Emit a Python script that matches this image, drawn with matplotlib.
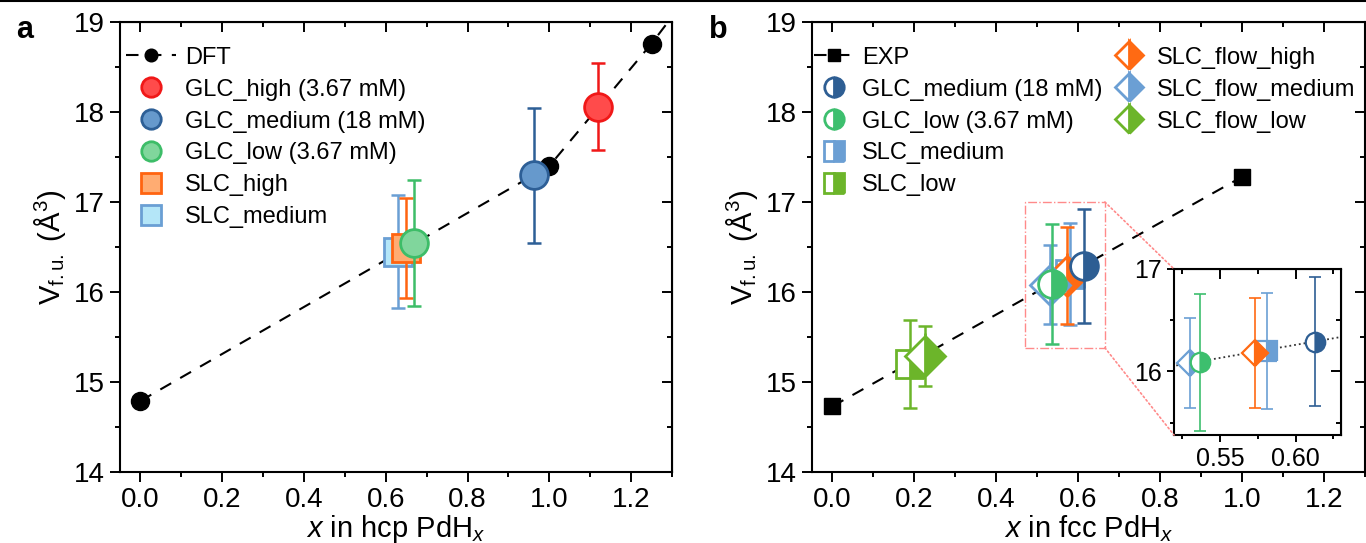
import matplotlib
matplotlib.use('Agg')
import matplotlib.pyplot as plt
from matplotlib.ticker import MultipleLocator, FormatStrFormatter
from matplotlib.patches import Rectangle, ConnectionPatch
from matplotlib.lines import Line2D

plt.rcParams['font.family'] = ['Liberation Sans', 'DejaVu Sans']
plt.rcParams['mathtext.fontset'] = 'custom'
plt.rcParams['mathtext.rm'] = 'Liberation Sans'
plt.rcParams['mathtext.it'] = 'Liberation Sans:italic'
plt.rcParams['mathtext.bf'] = 'Liberation Sans:bold'

# ---- panel a : hcp PdHx ----
dft_x = [0.0, 1.0, 1.25, 1.5]        # last DFT point lies outside the x range
dft_y = [14.79, 17.40, 18.76, 20.25]

a_names = ['SLC_medium', 'SLC_high', 'GLC_low (3.67 mM)',
           'GLC_medium (18 mM)', 'GLC_high (3.67 mM)']
a_x = [0.63, 0.65, 0.67, 0.963, 1.12]
a_y = [16.45, 16.49, 16.54, 17.30, 18.06]
a_err = [0.63, 0.56, 0.70, 0.75, 0.48]

# ---- panel b : fcc PdHx ----
exp_x = [0.0, 1.0]
exp_y = [14.73, 17.28]

b_names = ['SLC_low', 'SLC_flow_low', 'SLC_medium', 'SLC_flow_high',
           'GLC_medium (18 mM)', 'SLC_flow_medium', 'GLC_low (3.67 mM)']
b_x = [0.19, 0.225, 0.581, 0.573, 0.613, 0.530, 0.537]
b_y = [15.20, 15.29, 16.20, 16.18, 16.29, 16.08, 16.09]
b_err = [0.49, 0.33, 0.57, 0.54, 0.63, 0.44, 0.67]

# styles
a_style = {
    'GLC_high (3.67 mM)': ('o', '#ff4b4b', '#f01818'),
    'GLC_medium (18 mM)': ('o', '#6699cc', '#2d5f96'),
    'GLC_low (3.67 mM)': ('o', '#80d69c', '#3dbd68'),
    'SLC_high': ('s', '#ffac72', '#ff6410'),
    'SLC_medium': ('s', '#b4e6f8', '#6a9fd4'),
}
b_style = {
    'GLC_medium (18 mM)': ('o', '#2e5e93'),
    'GLC_low (3.67 mM)': ('o', '#3dbf6e'),
    'SLC_medium': ('s', '#6b9fd4'),
    'SLC_low': ('s', '#6cb52a'),
    'SLC_flow_high': ('D', '#ff6a13'),
    'SLC_flow_medium': ('D', '#6b9fd4'),
    'SLC_flow_low': ('D', '#6cb52a'),
}

TICK = 20
LEG = 17
LAB = 21


def style_axes(ax, xmaj, xmin, ymaj, ymin, size=TICK):
    for s in ax.spines.values():
        s.set_linewidth(1.5)
    ax.xaxis.set_major_locator(MultipleLocator(xmaj))
    ax.xaxis.set_minor_locator(MultipleLocator(xmin))
    ax.yaxis.set_major_locator(MultipleLocator(ymaj))
    ax.yaxis.set_minor_locator(MultipleLocator(ymin))
    ax.tick_params(which='both', direction='out', width=1.4, labelsize=size, pad=4)
    ax.tick_params(which='major', length=7)
    ax.tick_params(which='minor', length=3.5)
    # inward ticks on top and right
    top = ax.secondary_xaxis('top')
    top.xaxis.set_major_locator(MultipleLocator(xmaj))
    top.xaxis.set_minor_locator(MultipleLocator(xmin))
    top.tick_params(which='both', direction='in', width=1.4, labeltop=False)
    top.tick_params(which='major', length=7)
    top.tick_params(which='minor', length=3.5)
    right = ax.secondary_yaxis('right')
    right.yaxis.set_major_locator(MultipleLocator(ymaj))
    right.yaxis.set_minor_locator(MultipleLocator(ymin))
    right.tick_params(which='both', direction='in', width=1.4, labelright=False)
    right.tick_params(which='major', length=7)
    right.tick_params(which='minor', length=3.5)


fig = plt.figure(figsize=(13.66, 5.43), dpi=100)
ax_a = fig.add_axes([120 / 1366, 71 / 543, 552 / 1366, 450 / 543])
ax_b = fig.add_axes([812 / 1366, 71 / 543, 553 / 1366, 450 / 543])

# ---------------- panel a ----------------
h = {}
h['DFT'], = ax_a.plot(dft_x, dft_y, '--', color='k', lw=1.5, dashes=(6, 5),
                      marker='o', ms=13, mfc='k', mec='k', zorder=2)
for i, name in enumerate(a_names):
    m, fc, ec = a_style[name]
    ax_a.errorbar(a_x[i], a_y[i], yerr=a_err[i], fmt='none', ecolor=ec,
                  elinewidth=1.8, capsize=5, capthick=1.8, zorder=3 + i)
    h[name], = ax_a.plot(a_x[i], a_y[i], m, ms=20, mfc=fc, mec=ec, mew=2,
                         zorder=3 + i)
ax_a.set_xlim(-0.05, 1.30)
ax_a.set_ylim(14, 19)
style_axes(ax_a, 0.2, 0.1, 1, 0.5)
ax_a.xaxis.set_major_formatter(FormatStrFormatter('%.1f'))
ax_a.set_xlabel('$x$ in hcp PdH$_x$', fontsize=LAB, labelpad=0)
ax_a.set_ylabel('V$_{\\mathrm{f.u.}}$ (Å$^3$)', fontsize=LAB, labelpad=4)
order_a = ['DFT', 'GLC_high (3.67 mM)', 'GLC_medium (18 mM)',
           'GLC_low (3.67 mM)', 'SLC_high', 'SLC_medium']
ax_a.legend([h[k] for k in order_a], order_a, loc='upper left',
            bbox_to_anchor=(-0.006, 0.966), borderaxespad=0, frameon=False,
            fontsize=LEG, markerscale=0.7, handlelength=2.1,
            handletextpad=0.4, labelspacing=0.42)

# ---------------- panel b ----------------
hb = {}
hb['EXP'], = ax_b.plot(exp_x, exp_y, '--', color='k', lw=1.5, dashes=(6, 5),
                       marker='s', ms=12, mfc='k', mec='k', zorder=2)
for i, name in enumerate(b_names):
    m, c = b_style[name]
    ax_b.errorbar(b_x[i], b_y[i], yerr=b_err[i], fmt='none', ecolor=c,
                  elinewidth=1.8, capsize=5, capthick=1.8, zorder=3 + i)
    hb[name], = ax_b.plot(b_x[i], b_y[i], m, ms=20, fillstyle='right', mfc=c,
                          mfcalt='white', mec=c, mew=2, zorder=3 + i)
ax_b.set_xlim(-0.05, 1.30)
ax_b.set_ylim(14, 19)
style_axes(ax_b, 0.2, 0.1, 1, 0.5)
ax_b.xaxis.set_major_formatter(FormatStrFormatter('%.1f'))
ax_b.set_xlabel('$x$ in fcc PdH$_x$', fontsize=LAB, labelpad=0)
ax_b.set_ylabel('V$_{\\mathrm{f.u.}}$ (Å$^3$)', fontsize=LAB, labelpad=4)

order_b1 = ['EXP', 'GLC_medium (18 mM)', 'GLC_low (3.67 mM)', 'SLC_medium', 'SLC_low']
order_b2 = ['SLC_flow_high', 'SLC_flow_medium', 'SLC_flow_low']
leg1 = ax_b.legend([hb[k] for k in order_b1], order_b1, loc='upper left',
                   bbox_to_anchor=(-0.014, 0.966), borderaxespad=0, frameon=False,
                   fontsize=LEG, markerscale=0.7, handlelength=1.75,
                   handletextpad=0.3, labelspacing=0.42)
ax_b.add_artist(leg1)
ax_b.legend([hb[k] for k in order_b2], order_b2, loc='upper left',
            bbox_to_anchor=(0.519, 0.966), borderaxespad=0, frameon=False,
            fontsize=LEG, markerscale=0.7, handlelength=1.75,
            handletextpad=0.3, labelspacing=0.42)

# zoom box and inset
zx0, zx1, zy0, zy1 = 0.47, 0.665, 15.38, 17.0
ax_b.add_patch(Rectangle((zx0, zy0), zx1 - zx0, zy1 - zy0, fill=False,
                         ec='#ff8a8a', lw=1, ls='-.', zorder=1))

ax_in = fig.add_axes([1174 / 1366, 108 / 543, 167 / 1366, 166 / 543])
ax_in.plot(exp_x, exp_y, ':', color='#333333', lw=1.3, zorder=1)
for i, name in enumerate(b_names):
    m, c = b_style[name]
    ax_in.errorbar(b_x[i], b_y[i], yerr=b_err[i], fmt='none', ecolor=c,
                   elinewidth=1.2, capsize=4, capthick=1.2, zorder=3 + i)
    ms = 13 if m == 'D' else 14
    ax_in.plot(b_x[i], b_y[i], m, ms=ms, fillstyle='right', mfc=c,
               mfcalt='white', mec=c, mew=1.6, zorder=3 + i)
ax_in.set_xlim(0.5195, 0.63)
ax_in.set_ylim(zy0, zy1)
style_axes(ax_in, 0.05, 0.025, 1, 0.5, size=18)
ax_in.xaxis.set_major_formatter(FormatStrFormatter('%.2f'))
ax_in.tick_params(which='major', length=5)
ax_in.tick_params(which='minor', length=3)

for xy_data, xy_in in [((zx1, zy1), (0, 1)), ((zx1, zy0), (0, 0))]:
    con = ConnectionPatch(xyA=xy_data, coordsA=ax_b.transData,
                          xyB=xy_in, coordsB=ax_in.transAxes,
                          color='#ff8a8a', lw=1.2, ls=':')
    fig.add_artist(con)

fig.text(16 / 1366, 1 - 30 / 543, 'a', fontsize=22, fontweight='bold', va='center')
fig.text(709 / 1366, 1 - 30 / 543, 'b', fontsize=22, fontweight='bold', va='center')
fig.add_artist(Line2D([0, 1], [0.998, 0.998], transform=fig.transFigure,
                      color='k', lw=1.5))

fig.savefig('out.png', dpi=100)
